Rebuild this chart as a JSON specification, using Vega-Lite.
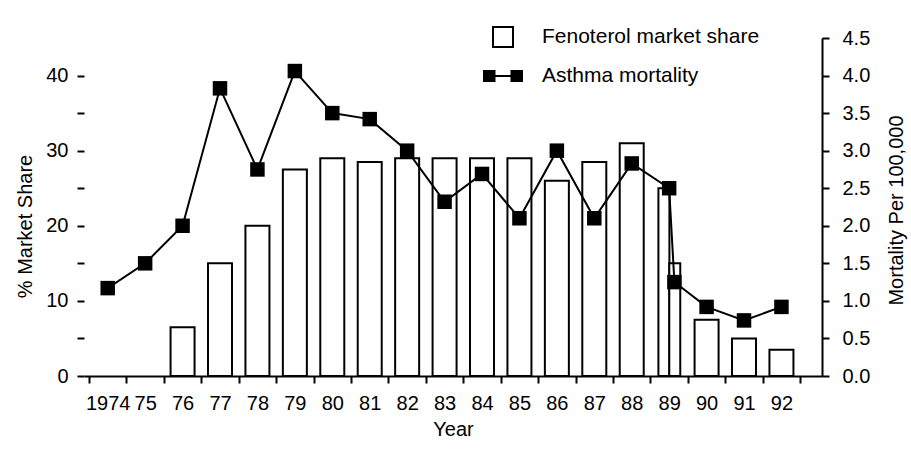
{
  "$schema": "https://vega.github.io/schema/vega-lite/v6.json",
  "width": 738,
  "height": 338,
  "autosize": "none",
  "padding": {"left": 84, "top": 38, "right": 89, "bottom": 75},
  "background": "white",
  "config": {
    "view": {"stroke": null},
    "font": "Liberation Sans",
    "axis": {
      "labelFont": "Liberation Sans",
      "titleFont": "Liberation Sans",
      "labelFontSize": 20,
      "titleFontSize": 20,
      "labelColor": "black",
      "titleColor": "black",
      "domainColor": "black",
      "tickColor": "black",
      "domainWidth": 2,
      "tickWidth": 2,
      "tickSize": 7,
      "titleFontWeight": "normal",
      "grid": false
    },
    "legend": {
      "labelFont": "Liberation Sans",
      "labelFontSize": 21,
      "labelColor": "black",
      "labelLimit": 400
    }
  },
  "datasets": {
    "share": [
      {"year": 1976, "period": "1976", "share": 6.5},
      {"year": 1977, "period": "1977", "share": 15},
      {"year": 1978, "period": "1978", "share": 20},
      {"year": 1979, "period": "1979", "share": 27.5},
      {"year": 1980, "period": "1980", "share": 29},
      {"year": 1981, "period": "1981", "share": 28.5},
      {"year": 1982, "period": "1982", "share": 29},
      {"year": 1983, "period": "1983", "share": 29},
      {"year": 1984, "period": "1984", "share": 29},
      {"year": 1985, "period": "1985", "share": 29},
      {"year": 1986, "period": "1986", "share": 26},
      {"year": 1987, "period": "1987", "share": 28.5},
      {"year": 1988, "period": "1988", "share": 31},
      {"year": 1988.86, "period": "1989 H1", "share": 25},
      {"year": 1989.15, "period": "1989 H2", "share": 15},
      {"year": 1990, "period": "1990", "share": 7.5},
      {"year": 1991, "period": "1991", "share": 5},
      {"year": 1992, "period": "1992", "share": 3.5}
    ],
    "mortality": [
      {"year": 1974, "period": "1974", "rate": 1.17},
      {"year": 1975, "period": "1975", "rate": 1.5},
      {"year": 1976, "period": "1976", "rate": 2.0},
      {"year": 1977, "period": "1977", "rate": 3.83},
      {"year": 1978, "period": "1978", "rate": 2.75},
      {"year": 1979, "period": "1979", "rate": 4.06},
      {"year": 1980, "period": "1980", "rate": 3.5},
      {"year": 1981, "period": "1981", "rate": 3.42},
      {"year": 1982, "period": "1982", "rate": 3.0},
      {"year": 1983, "period": "1983", "rate": 2.32},
      {"year": 1984, "period": "1984", "rate": 2.69},
      {"year": 1985, "period": "1985", "rate": 2.1},
      {"year": 1986, "period": "1986", "rate": 3.0},
      {"year": 1987, "period": "1987", "rate": 2.1},
      {"year": 1988, "period": "1988", "rate": 2.83},
      {"year": 1989.0, "period": "1989 H1", "rate": 2.5},
      {"year": 1989.14, "period": "1989 H2", "rate": 1.25},
      {"year": 1990, "period": "1990", "rate": 0.92},
      {"year": 1991, "period": "1991", "rate": 0.74},
      {"year": 1992, "period": "1992", "rate": 0.92}
    ]
  },
  "layer": [
    {
      "data": {"name": "share"},
      "encoding": {
        "x": {
          "field": "year",
          "type": "quantitative",
          "scale": {"domain": [1973.5, 1992.95], "nice": false, "zero": false},
          "axis": {
            "orient": "bottom",
            "title": null,
            "values": [1973.5, 1974.5, 1975.5, 1976.5, 1977.5, 1978.5, 1979.5, 1980.5, 1981.5, 1982.5, 1983.5, 1984.5, 1985.5, 1986.5, 1987.5, 1988.5, 1989.5, 1990.5, 1991.5, 1992.5],
            "labels": false,
            "domain": true,
            "ticks": true
          }
        },
        "y": {
          "field": "share",
          "type": "quantitative",
          "scale": {"domain": [0, 45], "nice": false},
          "axis": {
            "title": "% Market Share",
            "values": [0, 5, 10, 15, 20, 25, 30, 35, 40],
            "labelExpr": "datum.value % 10 === 0 ? datum.label : ''",
            "domain": false,
            "labelPadding": 9,
            "titlePadding": 10,
            "titleY": 188
          }
        }
      },
      "layer": [
        {
          "transform": [{"filter": "datum.year % 1 === 0"}],
          "mark": {"type": "bar", "width": 24, "fill": "white", "stroke": "black", "strokeWidth": 2},
          "encoding": {
            "stroke": {
              "datum": "Fenoterol market share",
              "type": "nominal",
              "scale": {"range": ["black"]},
              "legend": {
                "title": null,
                "orient": "none",
                "legendX": 408,
                "legendY": -12,
                "padding": 0,
                "symbolType": "square",
                "symbolSize": 400,
                "symbolStrokeWidth": 2,
                "symbolFillColor": "white",
                "symbolStrokeColor": "black",
                "labelOffset": 28
              }
            }
          }
        },
        {
          "transform": [{"filter": "datum.year % 1 !== 0"}],
          "mark": {"type": "bar", "width": 11, "fill": "white", "stroke": "black", "strokeWidth": 2}
        },
        {
          "data": {"values": [{}]},
          "mark": {"type": "rule", "strokeWidth": 2, "color": "black"},
          "encoding": {
            "x": {"datum": 1973.5, "type": "quantitative"},
            "y": {"datum": 0, "type": "quantitative"},
            "y2": {"datum": 40}
          }
        }
      ]
    },
    {
      "data": {"name": "mortality"},
      "encoding": {
        "x": {
          "field": "year",
          "type": "quantitative",
          "axis": {
            "orient": "bottom",
            "title": "Year",
            "titlePadding": 6,
            "values": [1974, 1975, 1976, 1977, 1978, 1979, 1980, 1981, 1982, 1983, 1984, 1985, 1986, 1987, 1988, 1989, 1990, 1991, 1992],
            "labelExpr": "datum.value === 1974 ? '1974' : substring(toString(datum.value), 2, 4)",
            "ticks": false,
            "domain": false,
            "labelOverlap": false,
            "labelFlush": false,
            "labelBound": false,
            "labelPadding": 17
          }
        },
        "y": {
          "field": "rate",
          "type": "quantitative",
          "scale": {"domain": [0, 4.5], "nice": false},
          "axis": {
            "orient": "right",
            "title": "Mortality Per 100,000",
            "values": [0, 0.5, 1, 1.5, 2, 2.5, 3, 3.5, 4, 4.5],
            "format": ".1f",
            "labelPadding": 13,
            "titleAngle": 270,
            "titleX": 74,
            "titleY": 172,
            "titleAlign": "center",
            "titleBaseline": "middle"
          }
        }
      },
      "layer": [
        {"mark": {"type": "line", "stroke": "black", "strokeWidth": 2}},
        {
          "mark": {"type": "point", "shape": "square", "filled": true, "size": 210, "fill": "black", "opacity": 1}
        },
        {
          "transform": [{"filter": "false"}],
          "mark": {"type": "point", "filled": true, "size": 400, "fill": "black", "opacity": 1},
          "encoding": {
            "shape": {
              "datum": "Asthma mortality",
              "type": "nominal",
              "scale": {"range": ["M-2,-0.6H-0.75V0.6H-2Z M0.75,-0.6H2V0.6H0.75Z M-0.8,-0.1H0.8V0.1H-0.8Z"]},
              "legend": {
                "title": null,
                "orient": "none",
                "legendX": 408,
                "legendY": 27,
                "padding": 0,
                "symbolSize": 400,
                "symbolFillColor": "black",
                "symbolStrokeColor": "black",
                "labelOffset": 28
              }
            }
          }
        }
      ]
    }
  ],
  "resolve": {"scale": {"y": "independent"}, "axis": {"x": "independent"}}
}
